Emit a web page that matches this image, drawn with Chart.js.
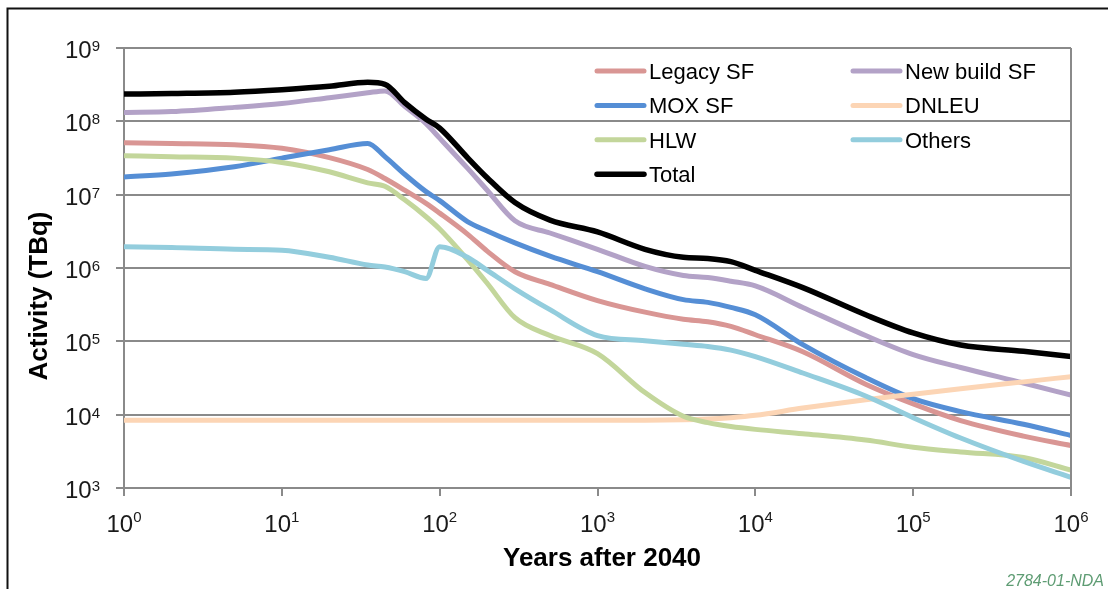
<!DOCTYPE html>
<html>
<head>
<meta charset="utf-8">
<script src="https://cdn.jsdelivr.net/npm/chart.js@4.4.1/dist/chart.umd.min.js"></script>
<style>
  html, body { margin: 0; padding: 0; background: #fff; }
  #activity-chart { display: block; }
</style>
</head>
<body>
<canvas id="activity-chart" width="1108" height="589"></canvas>
<script>
// Years after 2040 (log axis)
const years = [1, 2, 5, 10, 20, 35, 45, 60, 82, 100, 150, 200, 300, 500, 1000, 2000,
  3500, 5000, 7000, 10000, 20000, 50000, 100000, 200000, 500000, 1000000];

// Activity in TBq for each waste stream
const legacySF = [5.1e7, 5.0e7, 4.8e7, 4.3e7, 3.2e7, 2.2e7, 1.66e7, 1.15e7, 7.6e6, 5.6e6, 2.9e6, 1.7e6,
  8.9e5, 6.0e5, 3.6e5, 2.5e5, 2.0e5, 1.85e5, 1.6e5, 1.23e5, 7.2e4, 2.6e4, 1.4e4, 8.3e3, 5.1e3, 3.8e3];
const newBuildSF = [1.32e8, 1.36e8, 1.55e8, 1.75e8, 2.1e8, 2.45e8, 2.6e8, 1.6e8, 9.3e7, 5.9e7, 2.3e7, 1.15e7,
  4.4e6, 3.0e6, 1.8e6, 1.05e6, 7.9e5, 7.4e5, 6.6e5, 5.7e5, 2.9e5, 1.2e5, 6.6e4, 4.4e4, 2.7e4, 1.85e4];
const moxSF = [1.74e7, 1.92e7, 2.4e7, 3.15e7, 4.1e7, 5.0e7, 3.3e7, 1.9e7, 1.1e7, 8.3e6, 4.3e6, 3.2e6,
  2.2e6, 1.45e6, 8.9e5, 5.2e5, 3.7e5, 3.4e5, 2.9e5, 2.3e5, 9.0e4, 3.2e4, 1.65e4, 1.1e4, 7.4e3, 5.2e3];
const dnleu = [8.4e3, 8.4e3, 8.4e3, 8.4e3, 8.4e3, 8.4e3, 8.4e3, 8.4e3, 8.4e3, 8.4e3, 8.4e3, 8.4e3,
  8.4e3, 8.4e3, 8.4e3, 8.4e3, 8.5e3, 8.7e3, 9.1e3, 9.8e3, 1.23e4, 1.6e4, 1.9e4, 2.25e4, 2.8e4, 3.3e4];
const hlw = [3.4e7, 3.3e7, 3.15e7, 2.75e7, 2.05e7, 1.45e7, 1.3e7, 8.5e6, 5.0e6, 3.4e6, 1.3e6, 6.2e5,
  2.1e5, 1.2e5, 6.8e4, 2.0e4, 9.5e3, 7.8e3, 6.9e3, 6.3e3, 5.5e3, 4.5e3, 3.6e3, 3.1e3, 2.6e3, 1.75e3];
const others = [1.95e6, 1.9e6, 1.8e6, 1.75e6, 1.4e6, 1.1e6, 1.03e6, 8.9e5, 7.2e5, 1.95e6, 1.4e6, 9.3e5,
  5.2e5, 2.7e5, 1.2e5, 1.02e5, 9.1e4, 8.5e4, 7.6e4, 6.2e4, 3.7e4, 1.8e4, 9.1e3, 4.8e3, 2.3e3, 1.4e3];
const total = [2.35e8, 2.4e8, 2.5e8, 2.7e8, 3.0e8, 3.4e8, 3.2e8, 1.8e8, 1.07e8, 8.1e7, 3.2e7, 1.7e7,
  7.8e6, 4.5e6, 3.1e6, 1.8e6, 1.4e6, 1.35e6, 1.22e6, 9.3e5, 5.4e5, 2.3e5, 1.3e5, 8.9e4, 7.3e4, 6.2e4];

const xTicks = [1, 10, 100, 1000, 10000, 100000, 1000000];
const yTicks = [1e3, 1e4, 1e5, 1e6, 1e7, 1e8, 1e9];

const FONT = '"Liberation Sans", Arial, sans-serif';
const gridColor = '#8a8a8a';
const textColor = '#1a1a1a';

function series(label, values, color, order, width) {
  return {
    label,
    data: years.map((x, i) => ({ x, y: values[i] })),
    borderColor: color,
    backgroundColor: color,
    borderWidth: width || 5,
    pointRadius: 0,
    fill: false,
    cubicInterpolationMode: 'monotone',
    borderCapStyle: 'round',
    borderJoinStyle: 'round',
    order
  };
}

function exponent(v) {
  return String(Math.round(Math.log10(v)));
}

// Frame, power-of-ten tick labels, axis titles and the two-column legend
const decorations = {
  id: 'decorations',
  afterDraw(chart) {
    const { ctx, chartArea, scales } = chart;
    ctx.save();

    // outer frame (left and top edges)
    ctx.strokeStyle = '#111';
    ctx.lineWidth = 2;
    ctx.beginPath();
    ctx.moveTo(7.5, 589);
    ctx.lineTo(7.5, 8.5);
    ctx.lineTo(1108, 8.5);
    ctx.stroke();

    // right edge of the plot area
    ctx.strokeStyle = gridColor;
    ctx.beginPath();
    ctx.moveTo(chartArea.right, chartArea.top);
    ctx.lineTo(chartArea.right, chartArea.bottom);
    ctx.stroke();

    ctx.fillStyle = textColor;
    const big = '24px ' + FONT;
    const small = '15px ' + FONT;

    // y tick labels: 10 with superscript exponent
    ctx.textAlign = 'right';
    ctx.textBaseline = 'alphabetic';
    scales.y.ticks.forEach(t => {
      const py = scales.y.getPixelForValue(t.value);
      const exp = exponent(t.value);
      ctx.font = small;
      const ew = ctx.measureText(exp).width;
      const right = chartArea.left - 24;
      ctx.fillText(exp, right, py + 3);
      ctx.font = big;
      ctx.fillText('10', right - ew, py + 10);
    });

    // x tick labels
    ctx.textAlign = 'left';
    scales.x.ticks.forEach(t => {
      const px = scales.x.getPixelForValue(t.value);
      const exp = exponent(t.value);
      ctx.font = big;
      const bw = ctx.measureText('10').width;
      ctx.font = small;
      const ew = ctx.measureText(exp).width;
      const start = px - (bw + ew) / 2;
      ctx.font = big;
      ctx.fillText('10', start, chartArea.bottom + 44);
      ctx.font = small;
      ctx.fillText(exp, start + bw, chartArea.bottom + 34);
    });

    // axis titles
    ctx.fillStyle = '#000';
    ctx.font = 'bold 26px ' + FONT;
    ctx.textAlign = 'center';
    ctx.fillText('Years after 2040', 602, 566);
    ctx.save();
    ctx.translate(40, 296);
    ctx.rotate(-Math.PI / 2);
    ctx.textBaseline = 'middle';
    ctx.fillText('Activity (TBq)', 0, 0);
    ctx.restore();

    // legend, two columns filled row by row
    ctx.font = '22px ' + FONT;
    ctx.textAlign = 'left';
    ctx.textBaseline = 'middle';
    ctx.lineCap = 'round';
    chart.data.datasets.forEach((ds, i) => {
      const lx = i % 2 === 0 ? 597 : 853;
      const ly = 71 + Math.floor(i / 2) * 34.4;
      ctx.strokeStyle = ds.borderColor;
      ctx.lineWidth = ds.borderWidth;
      ctx.beginPath();
      ctx.moveTo(lx, ly);
      ctx.lineTo(lx + 47, ly);
      ctx.stroke();
      ctx.fillStyle = '#000';
      ctx.fillText(ds.label, lx + 52, ly + 2);
    });

    // drawing reference
    ctx.font = 'italic 16px ' + FONT;
    ctx.fillStyle = '#5e9c73';
    ctx.textAlign = 'right';
    ctx.textBaseline = 'alphabetic';
    ctx.fillText('2784-01-NDA', 1104, 586);

    ctx.restore();
  }
};

new Chart(document.getElementById('activity-chart').getContext('2d'), {
  type: 'line',
  data: {
    datasets: [
      series('Legacy SF', legacySF, '#D99694', 6),
      series('New build SF', newBuildSF, '#B3A2C7', 5),
      series('MOX SF', moxSF, '#558ED5', 4),
      series('DNLEU', dnleu, '#FCD5B5', 3),
      series('HLW', hlw, '#C3D69B', 2),
      series('Others', others, '#93CDDD', 1),
      series('Total', total, '#000000', 0, 5.5)
    ]
  },
  options: {
    responsive: false,
    animation: false,
    devicePixelRatio: 1,
    layout: { padding: { top: 48, right: 37, left: 0, bottom: 0 } },
    plugins: {
      legend: { display: false },
      tooltip: { enabled: false }
    },
    scales: {
      x: {
        type: 'logarithmic',
        min: 1,
        max: 1000000,
        afterBuildTicks: s => { s.ticks = xTicks.map(v => ({ value: v })); },
        afterFit: s => { s.height = 101; },
        ticks: { display: false },
        grid: { drawOnChartArea: false, drawTicks: true, tickLength: 8, color: gridColor, lineWidth: 2 },
        border: { display: true, color: gridColor, width: 2 }
      },
      y: {
        type: 'logarithmic',
        min: 1000,
        max: 1e9,
        afterBuildTicks: s => { s.ticks = yTicks.map(v => ({ value: v })); },
        afterFit: s => { s.width = 124; },
        ticks: { display: false },
        grid: { drawOnChartArea: true, drawTicks: true, tickLength: 8, color: gridColor, lineWidth: 2 },
        border: { display: true, color: gridColor, width: 2 }
      }
    }
  },
  plugins: [decorations]
});
</script>
</body>
</html>
